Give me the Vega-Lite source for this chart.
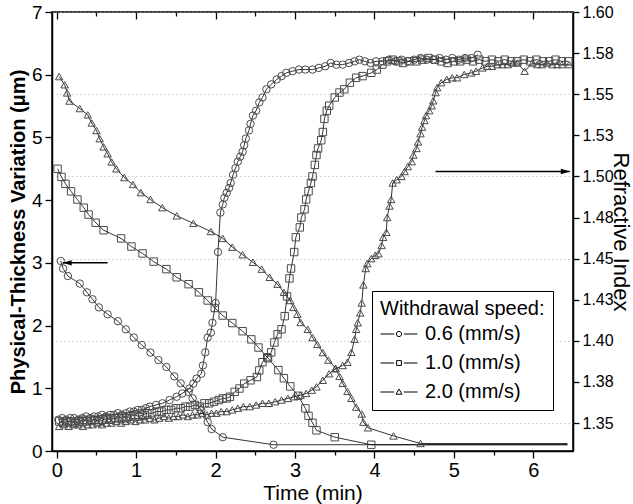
{
"$schema":"https://vega.github.io/schema/vega-lite/v6.json",
"width":521,"height":439,"autosize":"none",
"padding":{"left":52,"top":12,"right":60,"bottom":53},
"config":{"font":"Liberation Sans","view":{"stroke":"black","strokeWidth":1.5},
"axis":{"domainColor":"black","domainWidth":1.5,"tickColor":"black","tickWidth":1.3,"labelColor":"black","titleColor":"black","grid":false,"labelFont":"Liberation Sans","titleFont":"Liberation Sans"}},
"datasets":{
"thick":[
{"s":"0.6 (mm/s)","t":0.05,"v":3.03},{"s":"0.6 (mm/s)","t":0.08,"v":2.91},{"s":"0.6 (mm/s)","t":0.14,"v":2.79},{"s":"0.6 (mm/s)","t":0.29,"v":2.67},{"s":"0.6 (mm/s)","t":0.38,"v":2.53},{"s":"0.6 (mm/s)","t":0.45,"v":2.42},{"s":"0.6 (mm/s)","t":0.53,"v":2.29},{"s":"0.6 (mm/s)","t":0.64,"v":2.18},{"s":"0.6 (mm/s)","t":0.77,"v":2.07},{"s":"0.6 (mm/s)","t":0.87,"v":1.94},{"s":"0.6 (mm/s)","t":0.97,"v":1.81},{"s":"0.6 (mm/s)","t":1.07,"v":1.69},{"s":"0.6 (mm/s)","t":1.18,"v":1.57},{"s":"0.6 (mm/s)","t":1.28,"v":1.45},{"s":"0.6 (mm/s)","t":1.38,"v":1.34},{"s":"0.6 (mm/s)","t":1.48,"v":1.19},{"s":"0.6 (mm/s)","t":1.56,"v":1.08},{"s":"0.6 (mm/s)","t":1.66,"v":0.94},{"s":"0.6 (mm/s)","t":1.71,"v":0.84},{"s":"0.6 (mm/s)","t":1.82,"v":0.65},{"s":"0.6 (mm/s)","t":1.9,"v":0.46},{"s":"0.6 (mm/s)","t":1.95,"v":0.35},{"s":"0.6 (mm/s)","t":2.09,"v":0.22},{"s":"0.6 (mm/s)","t":2.73,"v":0.1},{"s":"0.6 (mm/s)","t":6.43,"v":0.1},
{"s":"1.0 (mm/s)","t":0.01,"v":4.5},{"s":"1.0 (mm/s)","t":0.06,"v":4.37},{"s":"1.0 (mm/s)","t":0.11,"v":4.26},{"s":"1.0 (mm/s)","t":0.18,"v":4.14},{"s":"1.0 (mm/s)","t":0.26,"v":4.01},{"s":"1.0 (mm/s)","t":0.34,"v":3.88},{"s":"1.0 (mm/s)","t":0.4,"v":3.77},{"s":"1.0 (mm/s)","t":0.49,"v":3.64},{"s":"1.0 (mm/s)","t":0.59,"v":3.52},{"s":"1.0 (mm/s)","t":0.81,"v":3.39},{"s":"1.0 (mm/s)","t":0.94,"v":3.26},{"s":"1.0 (mm/s)","t":1.08,"v":3.15},{"s":"1.0 (mm/s)","t":1.22,"v":3.02},{"s":"1.0 (mm/s)","t":1.38,"v":2.9},{"s":"1.0 (mm/s)","t":1.51,"v":2.77},{"s":"1.0 (mm/s)","t":1.66,"v":2.66},{"s":"1.0 (mm/s)","t":1.79,"v":2.53},{"s":"1.0 (mm/s)","t":1.9,"v":2.4},{"s":"1.0 (mm/s)","t":1.99,"v":2.28},{"s":"1.0 (mm/s)","t":2.09,"v":2.16},{"s":"1.0 (mm/s)","t":2.21,"v":2.04},{"s":"1.0 (mm/s)","t":2.34,"v":1.91},{"s":"1.0 (mm/s)","t":2.45,"v":1.78},{"s":"1.0 (mm/s)","t":2.54,"v":1.65},{"s":"1.0 (mm/s)","t":2.66,"v":1.48},{"s":"1.0 (mm/s)","t":2.79,"v":1.29},{"s":"1.0 (mm/s)","t":2.86,"v":1.16},{"s":"1.0 (mm/s)","t":2.94,"v":1.03},{"s":"1.0 (mm/s)","t":3.04,"v":0.88},{"s":"1.0 (mm/s)","t":3.13,"v":0.68},{"s":"1.0 (mm/s)","t":3.17,"v":0.56},{"s":"1.0 (mm/s)","t":3.22,"v":0.45},{"s":"1.0 (mm/s)","t":3.27,"v":0.33},{"s":"1.0 (mm/s)","t":3.5,"v":0.22},{"s":"1.0 (mm/s)","t":3.96,"v":0.1},{"s":"1.0 (mm/s)","t":6.43,"v":0.1},
{"s":"2.0 (mm/s)","t":0.03,"v":5.97},{"s":"2.0 (mm/s)","t":0.1,"v":5.84},{"s":"2.0 (mm/s)","t":0.13,"v":5.71},{"s":"2.0 (mm/s)","t":0.16,"v":5.58},{"s":"2.0 (mm/s)","t":0.29,"v":5.46},{"s":"2.0 (mm/s)","t":0.39,"v":5.36},{"s":"2.0 (mm/s)","t":0.44,"v":5.23},{"s":"2.0 (mm/s)","t":0.5,"v":5.11},{"s":"2.0 (mm/s)","t":0.54,"v":4.98},{"s":"2.0 (mm/s)","t":0.59,"v":4.85},{"s":"2.0 (mm/s)","t":0.64,"v":4.74},{"s":"2.0 (mm/s)","t":0.69,"v":4.61},{"s":"2.0 (mm/s)","t":0.75,"v":4.5},{"s":"2.0 (mm/s)","t":0.85,"v":4.36},{"s":"2.0 (mm/s)","t":0.96,"v":4.25},{"s":"2.0 (mm/s)","t":1.06,"v":4.12},{"s":"2.0 (mm/s)","t":1.18,"v":4.01},{"s":"2.0 (mm/s)","t":1.33,"v":3.88},{"s":"2.0 (mm/s)","t":1.51,"v":3.75},{"s":"2.0 (mm/s)","t":1.72,"v":3.63},{"s":"2.0 (mm/s)","t":1.94,"v":3.5},{"s":"2.0 (mm/s)","t":2.09,"v":3.39},{"s":"2.0 (mm/s)","t":2.21,"v":3.25},{"s":"2.0 (mm/s)","t":2.34,"v":3.13},{"s":"2.0 (mm/s)","t":2.47,"v":3.01},{"s":"2.0 (mm/s)","t":2.58,"v":2.9},{"s":"2.0 (mm/s)","t":2.68,"v":2.77},{"s":"2.0 (mm/s)","t":2.78,"v":2.66},{"s":"2.0 (mm/s)","t":2.86,"v":2.53},{"s":"2.0 (mm/s)","t":2.94,"v":2.4},{"s":"2.0 (mm/s)","t":2.98,"v":2.29},{"s":"2.0 (mm/s)","t":3.03,"v":2.18},{"s":"2.0 (mm/s)","t":3.07,"v":2.05},{"s":"2.0 (mm/s)","t":3.16,"v":1.94},{"s":"2.0 (mm/s)","t":3.22,"v":1.81},{"s":"2.0 (mm/s)","t":3.28,"v":1.7},{"s":"2.0 (mm/s)","t":3.35,"v":1.57},{"s":"2.0 (mm/s)","t":3.42,"v":1.45},{"s":"2.0 (mm/s)","t":3.51,"v":1.32},{"s":"2.0 (mm/s)","t":3.56,"v":1.19},{"s":"2.0 (mm/s)","t":3.6,"v":1.08},{"s":"2.0 (mm/s)","t":3.66,"v":0.95},{"s":"2.0 (mm/s)","t":3.71,"v":0.84},{"s":"2.0 (mm/s)","t":3.77,"v":0.7},{"s":"2.0 (mm/s)","t":3.84,"v":0.59},{"s":"2.0 (mm/s)","t":3.86,"v":0.46},{"s":"2.0 (mm/s)","t":3.92,"v":0.37},{"s":"2.0 (mm/s)","t":4.24,"v":0.24},{"s":"2.0 (mm/s)","t":4.58,"v":0.12},{"s":"2.0 (mm/s)","t":6.43,"v":0.12}
],
"ri":[
{"s":"0.6 (mm/s)","t":0.02,"n":1.352},{"s":"0.6 (mm/s)","t":0.07,"n":1.353},{"s":"0.6 (mm/s)","t":0.12,"n":1.352},{"s":"0.6 (mm/s)","t":0.17,"n":1.353},{"s":"0.6 (mm/s)","t":0.22,"n":1.353},{"s":"0.6 (mm/s)","t":0.27,"n":1.352},{"s":"0.6 (mm/s)","t":0.32,"n":1.353},{"s":"0.6 (mm/s)","t":0.37,"n":1.354},{"s":"0.6 (mm/s)","t":0.42,"n":1.353},{"s":"0.6 (mm/s)","t":0.47,"n":1.354},{"s":"0.6 (mm/s)","t":0.52,"n":1.354},{"s":"0.6 (mm/s)","t":0.57,"n":1.355},{"s":"0.6 (mm/s)","t":0.62,"n":1.354},{"s":"0.6 (mm/s)","t":0.67,"n":1.355},{"s":"0.6 (mm/s)","t":0.72,"n":1.355},{"s":"0.6 (mm/s)","t":0.77,"n":1.356},{"s":"0.6 (mm/s)","t":0.82,"n":1.355},{"s":"0.6 (mm/s)","t":0.87,"n":1.356},{"s":"0.6 (mm/s)","t":0.92,"n":1.357},{"s":"0.6 (mm/s)","t":0.97,"n":1.357},{"s":"0.6 (mm/s)","t":1.02,"n":1.358},{"s":"0.6 (mm/s)","t":1.07,"n":1.358},{"s":"0.6 (mm/s)","t":1.12,"n":1.359},{"s":"0.6 (mm/s)","t":1.17,"n":1.36},{"s":"0.6 (mm/s)","t":1.25,"n":1.361},{"s":"0.6 (mm/s)","t":1.33,"n":1.362},{"s":"0.6 (mm/s)","t":1.42,"n":1.364},{"s":"0.6 (mm/s)","t":1.51,"n":1.366},{"s":"0.6 (mm/s)","t":1.58,"n":1.368},{"s":"0.6 (mm/s)","t":1.67,"n":1.371},{"s":"0.6 (mm/s)","t":1.72,"n":1.374},{"s":"0.6 (mm/s)","t":1.76,"n":1.377},{"s":"0.6 (mm/s)","t":1.82,"n":1.38},{"s":"0.6 (mm/s)","t":1.84,"n":1.385},{"s":"0.6 (mm/s)","t":1.87,"n":1.393},{"s":"0.6 (mm/s)","t":1.9,"n":1.402},{"s":"0.6 (mm/s)","t":1.94,"n":1.405},{"s":"0.6 (mm/s)","t":1.96,"n":1.411},{"s":"0.6 (mm/s)","t":2.0,"n":1.423},{"s":"0.6 (mm/s)","t":2.03,"n":1.454},{"s":"0.6 (mm/s)","t":2.06,"n":1.478},{"s":"0.6 (mm/s)","t":2.09,"n":1.483},{"s":"0.6 (mm/s)","t":2.11,"n":1.487},{"s":"0.6 (mm/s)","t":2.14,"n":1.49},{"s":"0.6 (mm/s)","t":2.17,"n":1.493},{"s":"0.6 (mm/s)","t":2.19,"n":1.496},{"s":"0.6 (mm/s)","t":2.22,"n":1.501},{"s":"0.6 (mm/s)","t":2.25,"n":1.505},{"s":"0.6 (mm/s)","t":2.28,"n":1.509},{"s":"0.6 (mm/s)","t":2.31,"n":1.512},{"s":"0.6 (mm/s)","t":2.34,"n":1.515},{"s":"0.6 (mm/s)","t":2.36,"n":1.519},{"s":"0.6 (mm/s)","t":2.38,"n":1.523},{"s":"0.6 (mm/s)","t":2.42,"n":1.528},{"s":"0.6 (mm/s)","t":2.44,"n":1.532},{"s":"0.6 (mm/s)","t":2.47,"n":1.537},{"s":"0.6 (mm/s)","t":2.51,"n":1.54},{"s":"0.6 (mm/s)","t":2.55,"n":1.545},{"s":"0.6 (mm/s)","t":2.59,"n":1.548},{"s":"0.6 (mm/s)","t":2.64,"n":1.553},{"s":"0.6 (mm/s)","t":2.7,"n":1.556},{"s":"0.6 (mm/s)","t":2.77,"n":1.559},{"s":"0.6 (mm/s)","t":2.83,"n":1.561},{"s":"0.6 (mm/s)","t":2.89,"n":1.563},{"s":"0.6 (mm/s)","t":2.97,"n":1.564},{"s":"0.6 (mm/s)","t":3.05,"n":1.565},{"s":"0.6 (mm/s)","t":3.13,"n":1.565},{"s":"0.6 (mm/s)","t":3.22,"n":1.565},{"s":"0.6 (mm/s)","t":3.3,"n":1.566},{"s":"0.6 (mm/s)","t":3.38,"n":1.567},{"s":"0.6 (mm/s)","t":3.45,"n":1.569},{"s":"0.6 (mm/s)","t":3.52,"n":1.568},{"s":"0.6 (mm/s)","t":3.6,"n":1.568},{"s":"0.6 (mm/s)","t":3.68,"n":1.569},{"s":"0.6 (mm/s)","t":3.75,"n":1.57},{"s":"0.6 (mm/s)","t":3.81,"n":1.571},{"s":"0.6 (mm/s)","t":3.88,"n":1.57},{"s":"0.6 (mm/s)","t":3.95,"n":1.569},{"s":"0.6 (mm/s)","t":4.02,"n":1.57},{"s":"0.6 (mm/s)","t":4.1,"n":1.57},{"s":"0.6 (mm/s)","t":4.18,"n":1.571},{"s":"0.6 (mm/s)","t":4.26,"n":1.57},{"s":"0.6 (mm/s)","t":4.34,"n":1.571},{"s":"0.6 (mm/s)","t":4.42,"n":1.57},{"s":"0.6 (mm/s)","t":4.5,"n":1.571},{"s":"0.6 (mm/s)","t":4.58,"n":1.572},{"s":"0.6 (mm/s)","t":4.66,"n":1.571},{"s":"0.6 (mm/s)","t":4.74,"n":1.571},{"s":"0.6 (mm/s)","t":4.82,"n":1.572},{"s":"0.6 (mm/s)","t":4.9,"n":1.571},{"s":"0.6 (mm/s)","t":4.98,"n":1.572},{"s":"0.6 (mm/s)","t":5.06,"n":1.571},{"s":"0.6 (mm/s)","t":5.14,"n":1.572},{"s":"0.6 (mm/s)","t":5.22,"n":1.572},{"s":"0.6 (mm/s)","t":5.3,"n":1.574},
{"s":"1.0 (mm/s)","t":0.03,"n":1.351},{"s":"1.0 (mm/s)","t":0.08,"n":1.35},{"s":"1.0 (mm/s)","t":0.13,"n":1.351},{"s":"1.0 (mm/s)","t":0.18,"n":1.351},{"s":"1.0 (mm/s)","t":0.23,"n":1.35},{"s":"1.0 (mm/s)","t":0.28,"n":1.351},{"s":"1.0 (mm/s)","t":0.33,"n":1.352},{"s":"1.0 (mm/s)","t":0.38,"n":1.351},{"s":"1.0 (mm/s)","t":0.43,"n":1.352},{"s":"1.0 (mm/s)","t":0.48,"n":1.352},{"s":"1.0 (mm/s)","t":0.53,"n":1.351},{"s":"1.0 (mm/s)","t":0.58,"n":1.352},{"s":"1.0 (mm/s)","t":0.63,"n":1.353},{"s":"1.0 (mm/s)","t":0.68,"n":1.352},{"s":"1.0 (mm/s)","t":0.73,"n":1.353},{"s":"1.0 (mm/s)","t":0.78,"n":1.353},{"s":"1.0 (mm/s)","t":0.83,"n":1.354},{"s":"1.0 (mm/s)","t":0.88,"n":1.353},{"s":"1.0 (mm/s)","t":0.93,"n":1.354},{"s":"1.0 (mm/s)","t":0.98,"n":1.355},{"s":"1.0 (mm/s)","t":1.03,"n":1.354},{"s":"1.0 (mm/s)","t":1.08,"n":1.355},{"s":"1.0 (mm/s)","t":1.14,"n":1.356},{"s":"1.0 (mm/s)","t":1.2,"n":1.356},{"s":"1.0 (mm/s)","t":1.26,"n":1.357},{"s":"1.0 (mm/s)","t":1.32,"n":1.357},{"s":"1.0 (mm/s)","t":1.38,"n":1.358},{"s":"1.0 (mm/s)","t":1.44,"n":1.358},{"s":"1.0 (mm/s)","t":1.5,"n":1.359},{"s":"1.0 (mm/s)","t":1.56,"n":1.359},{"s":"1.0 (mm/s)","t":1.62,"n":1.36},{"s":"1.0 (mm/s)","t":1.68,"n":1.36},{"s":"1.0 (mm/s)","t":1.74,"n":1.361},{"s":"1.0 (mm/s)","t":1.8,"n":1.36},{"s":"1.0 (mm/s)","t":1.86,"n":1.362},{"s":"1.0 (mm/s)","t":1.92,"n":1.362},{"s":"1.0 (mm/s)","t":1.98,"n":1.363},{"s":"1.0 (mm/s)","t":2.04,"n":1.364},{"s":"1.0 (mm/s)","t":2.09,"n":1.365},{"s":"1.0 (mm/s)","t":2.14,"n":1.365},{"s":"1.0 (mm/s)","t":2.18,"n":1.366},{"s":"1.0 (mm/s)","t":2.24,"n":1.369},{"s":"1.0 (mm/s)","t":2.3,"n":1.371},{"s":"1.0 (mm/s)","t":2.36,"n":1.374},{"s":"1.0 (mm/s)","t":2.44,"n":1.376},{"s":"1.0 (mm/s)","t":2.52,"n":1.378},{"s":"1.0 (mm/s)","t":2.55,"n":1.382},{"s":"1.0 (mm/s)","t":2.59,"n":1.387},{"s":"1.0 (mm/s)","t":2.65,"n":1.39},{"s":"1.0 (mm/s)","t":2.7,"n":1.393},{"s":"1.0 (mm/s)","t":2.74,"n":1.399},{"s":"1.0 (mm/s)","t":2.78,"n":1.404},{"s":"1.0 (mm/s)","t":2.83,"n":1.407},{"s":"1.0 (mm/s)","t":2.87,"n":1.415},{"s":"1.0 (mm/s)","t":2.9,"n":1.427},{"s":"1.0 (mm/s)","t":2.93,"n":1.438},{"s":"1.0 (mm/s)","t":2.95,"n":1.444},{"s":"1.0 (mm/s)","t":2.99,"n":1.454},{"s":"1.0 (mm/s)","t":3.01,"n":1.463},{"s":"1.0 (mm/s)","t":3.06,"n":1.469},{"s":"1.0 (mm/s)","t":3.08,"n":1.475},{"s":"1.0 (mm/s)","t":3.12,"n":1.48},{"s":"1.0 (mm/s)","t":3.14,"n":1.486},{"s":"1.0 (mm/s)","t":3.17,"n":1.491},{"s":"1.0 (mm/s)","t":3.2,"n":1.496},{"s":"1.0 (mm/s)","t":3.22,"n":1.5},{"s":"1.0 (mm/s)","t":3.25,"n":1.507},{"s":"1.0 (mm/s)","t":3.27,"n":1.513},{"s":"1.0 (mm/s)","t":3.29,"n":1.517},{"s":"1.0 (mm/s)","t":3.33,"n":1.522},{"s":"1.0 (mm/s)","t":3.35,"n":1.527},{"s":"1.0 (mm/s)","t":3.37,"n":1.535},{"s":"1.0 (mm/s)","t":3.4,"n":1.54},{"s":"1.0 (mm/s)","t":3.43,"n":1.543},{"s":"1.0 (mm/s)","t":3.5,"n":1.548},{"s":"1.0 (mm/s)","t":3.56,"n":1.551},{"s":"1.0 (mm/s)","t":3.62,"n":1.553},{"s":"1.0 (mm/s)","t":3.69,"n":1.557},{"s":"1.0 (mm/s)","t":3.77,"n":1.56},{"s":"1.0 (mm/s)","t":3.85,"n":1.561},{"s":"1.0 (mm/s)","t":3.96,"n":1.563},{"s":"1.0 (mm/s)","t":4.03,"n":1.565},{"s":"1.0 (mm/s)","t":4.1,"n":1.568},{"s":"1.0 (mm/s)","t":4.16,"n":1.57},{"s":"1.0 (mm/s)","t":4.23,"n":1.571},{"s":"1.0 (mm/s)","t":4.3,"n":1.57},{"s":"1.0 (mm/s)","t":4.36,"n":1.569},{"s":"1.0 (mm/s)","t":4.44,"n":1.57},{"s":"1.0 (mm/s)","t":4.53,"n":1.57},{"s":"1.0 (mm/s)","t":4.6,"n":1.571},{"s":"1.0 (mm/s)","t":4.68,"n":1.572},{"s":"1.0 (mm/s)","t":4.76,"n":1.571},{"s":"1.0 (mm/s)","t":4.84,"n":1.57},{"s":"1.0 (mm/s)","t":4.92,"n":1.569},{"s":"1.0 (mm/s)","t":5.0,"n":1.57},{"s":"1.0 (mm/s)","t":5.08,"n":1.57},{"s":"1.0 (mm/s)","t":5.16,"n":1.571},{"s":"1.0 (mm/s)","t":5.24,"n":1.57},{"s":"1.0 (mm/s)","t":5.32,"n":1.571},{"s":"1.0 (mm/s)","t":5.4,"n":1.57},{"s":"1.0 (mm/s)","t":5.48,"n":1.571},{"s":"1.0 (mm/s)","t":5.56,"n":1.57},{"s":"1.0 (mm/s)","t":5.64,"n":1.571},{"s":"1.0 (mm/s)","t":5.72,"n":1.57},{"s":"1.0 (mm/s)","t":5.8,"n":1.57},{"s":"1.0 (mm/s)","t":5.88,"n":1.571},{"s":"1.0 (mm/s)","t":5.96,"n":1.57},{"s":"1.0 (mm/s)","t":6.04,"n":1.571},{"s":"1.0 (mm/s)","t":6.12,"n":1.57},{"s":"1.0 (mm/s)","t":6.2,"n":1.57},{"s":"1.0 (mm/s)","t":6.28,"n":1.571},{"s":"1.0 (mm/s)","t":6.36,"n":1.57},{"s":"1.0 (mm/s)","t":6.44,"n":1.57},
{"s":"2.0 (mm/s)","t":0.03,"n":1.348},{"s":"2.0 (mm/s)","t":0.09,"n":1.349},{"s":"2.0 (mm/s)","t":0.15,"n":1.348},{"s":"2.0 (mm/s)","t":0.21,"n":1.349},{"s":"2.0 (mm/s)","t":0.27,"n":1.349},{"s":"2.0 (mm/s)","t":0.33,"n":1.348},{"s":"2.0 (mm/s)","t":0.39,"n":1.349},{"s":"2.0 (mm/s)","t":0.45,"n":1.349},{"s":"2.0 (mm/s)","t":0.51,"n":1.35},{"s":"2.0 (mm/s)","t":0.57,"n":1.349},{"s":"2.0 (mm/s)","t":0.63,"n":1.35},{"s":"2.0 (mm/s)","t":0.69,"n":1.35},{"s":"2.0 (mm/s)","t":0.75,"n":1.351},{"s":"2.0 (mm/s)","t":0.81,"n":1.35},{"s":"2.0 (mm/s)","t":0.87,"n":1.351},{"s":"2.0 (mm/s)","t":0.93,"n":1.352},{"s":"2.0 (mm/s)","t":0.99,"n":1.351},{"s":"2.0 (mm/s)","t":1.05,"n":1.352},{"s":"2.0 (mm/s)","t":1.11,"n":1.352},{"s":"2.0 (mm/s)","t":1.17,"n":1.353},{"s":"2.0 (mm/s)","t":1.23,"n":1.352},{"s":"2.0 (mm/s)","t":1.29,"n":1.353},{"s":"2.0 (mm/s)","t":1.35,"n":1.354},{"s":"2.0 (mm/s)","t":1.41,"n":1.353},{"s":"2.0 (mm/s)","t":1.47,"n":1.354},{"s":"2.0 (mm/s)","t":1.53,"n":1.354},{"s":"2.0 (mm/s)","t":1.59,"n":1.355},{"s":"2.0 (mm/s)","t":1.65,"n":1.354},{"s":"2.0 (mm/s)","t":1.71,"n":1.355},{"s":"2.0 (mm/s)","t":1.77,"n":1.355},{"s":"2.0 (mm/s)","t":1.83,"n":1.356},{"s":"2.0 (mm/s)","t":1.89,"n":1.355},{"s":"2.0 (mm/s)","t":1.95,"n":1.356},{"s":"2.0 (mm/s)","t":2.01,"n":1.356},{"s":"2.0 (mm/s)","t":2.07,"n":1.357},{"s":"2.0 (mm/s)","t":2.14,"n":1.357},{"s":"2.0 (mm/s)","t":2.21,"n":1.358},{"s":"2.0 (mm/s)","t":2.28,"n":1.359},{"s":"2.0 (mm/s)","t":2.35,"n":1.36},{"s":"2.0 (mm/s)","t":2.43,"n":1.36},{"s":"2.0 (mm/s)","t":2.51,"n":1.361},{"s":"2.0 (mm/s)","t":2.59,"n":1.362},{"s":"2.0 (mm/s)","t":2.67,"n":1.362},{"s":"2.0 (mm/s)","t":2.75,"n":1.363},{"s":"2.0 (mm/s)","t":2.83,"n":1.364},{"s":"2.0 (mm/s)","t":2.91,"n":1.365},{"s":"2.0 (mm/s)","t":2.99,"n":1.366},{"s":"2.0 (mm/s)","t":3.07,"n":1.367},{"s":"2.0 (mm/s)","t":3.14,"n":1.368},{"s":"2.0 (mm/s)","t":3.21,"n":1.37},{"s":"2.0 (mm/s)","t":3.27,"n":1.372},{"s":"2.0 (mm/s)","t":3.35,"n":1.376},{"s":"2.0 (mm/s)","t":3.43,"n":1.38},{"s":"2.0 (mm/s)","t":3.51,"n":1.383},{"s":"2.0 (mm/s)","t":3.6,"n":1.385},{"s":"2.0 (mm/s)","t":3.66,"n":1.387},{"s":"2.0 (mm/s)","t":3.71,"n":1.393},{"s":"2.0 (mm/s)","t":3.75,"n":1.401},{"s":"2.0 (mm/s)","t":3.77,"n":1.407},{"s":"2.0 (mm/s)","t":3.79,"n":1.411},{"s":"2.0 (mm/s)","t":3.82,"n":1.417},{"s":"2.0 (mm/s)","t":3.84,"n":1.423},{"s":"2.0 (mm/s)","t":3.86,"n":1.434},{"s":"2.0 (mm/s)","t":3.89,"n":1.444},{"s":"2.0 (mm/s)","t":3.91,"n":1.447},{"s":"2.0 (mm/s)","t":3.96,"n":1.45},{"s":"2.0 (mm/s)","t":4.01,"n":1.452},{"s":"2.0 (mm/s)","t":4.05,"n":1.453},{"s":"2.0 (mm/s)","t":4.09,"n":1.458},{"s":"2.0 (mm/s)","t":4.11,"n":1.463},{"s":"2.0 (mm/s)","t":4.15,"n":1.466},{"s":"2.0 (mm/s)","t":4.16,"n":1.475},{"s":"2.0 (mm/s)","t":4.19,"n":1.482},{"s":"2.0 (mm/s)","t":4.21,"n":1.486},{"s":"2.0 (mm/s)","t":4.23,"n":1.496},{"s":"2.0 (mm/s)","t":4.28,"n":1.498},{"s":"2.0 (mm/s)","t":4.34,"n":1.5},{"s":"2.0 (mm/s)","t":4.38,"n":1.503},{"s":"2.0 (mm/s)","t":4.42,"n":1.506},{"s":"2.0 (mm/s)","t":4.47,"n":1.509},{"s":"2.0 (mm/s)","t":4.49,"n":1.513},{"s":"2.0 (mm/s)","t":4.53,"n":1.517},{"s":"2.0 (mm/s)","t":4.55,"n":1.521},{"s":"2.0 (mm/s)","t":4.58,"n":1.526},{"s":"2.0 (mm/s)","t":4.6,"n":1.53},{"s":"2.0 (mm/s)","t":4.63,"n":1.534},{"s":"2.0 (mm/s)","t":4.65,"n":1.537},{"s":"2.0 (mm/s)","t":4.69,"n":1.54},{"s":"2.0 (mm/s)","t":4.72,"n":1.543},{"s":"2.0 (mm/s)","t":4.74,"n":1.546},{"s":"2.0 (mm/s)","t":4.77,"n":1.551},{"s":"2.0 (mm/s)","t":4.79,"n":1.554},{"s":"2.0 (mm/s)","t":4.84,"n":1.557},{"s":"2.0 (mm/s)","t":4.91,"n":1.559},{"s":"2.0 (mm/s)","t":4.98,"n":1.56},{"s":"2.0 (mm/s)","t":5.04,"n":1.56},{"s":"2.0 (mm/s)","t":5.13,"n":1.562},{"s":"2.0 (mm/s)","t":5.22,"n":1.563},{"s":"2.0 (mm/s)","t":5.28,"n":1.564},{"s":"2.0 (mm/s)","t":5.36,"n":1.566},{"s":"2.0 (mm/s)","t":5.42,"n":1.567},{"s":"2.0 (mm/s)","t":5.48,"n":1.567},{"s":"2.0 (mm/s)","t":5.55,"n":1.568},{"s":"2.0 (mm/s)","t":5.61,"n":1.568},{"s":"2.0 (mm/s)","t":5.68,"n":1.568},{"s":"2.0 (mm/s)","t":5.74,"n":1.569},{"s":"2.0 (mm/s)","t":5.8,"n":1.569},{"s":"2.0 (mm/s)","t":5.89,"n":1.564},{"s":"2.0 (mm/s)","t":5.99,"n":1.569},{"s":"2.0 (mm/s)","t":6.05,"n":1.568},{"s":"2.0 (mm/s)","t":6.11,"n":1.568},{"s":"2.0 (mm/s)","t":6.17,"n":1.569},{"s":"2.0 (mm/s)","t":6.24,"n":1.568},{"s":"2.0 (mm/s)","t":6.3,"n":1.568},{"s":"2.0 (mm/s)","t":6.36,"n":1.568},{"s":"2.0 (mm/s)","t":6.45,"n":1.568}
],
"arrowL":[{"t":0.075,"t2":0.64,"v":3.0}],
"arrowR":[{"t":4.77,"t2":6.46,"n":1.503}],
"speeds":[{"s":"0.6 (mm/s)","t":0,"v":0},{"s":"1.0 (mm/s)","t":0,"v":0},{"s":"2.0 (mm/s)","t":0,"v":0}]
},
"layer":[
{"layer":[
 {"data":{"name":"thick"},"mark":{"type":"line","color":"black","strokeWidth":0.8},
  "encoding":{
   "x":{"field":"t","type":"quantitative","scale":{"domain":[-0.06,6.5],"nice":false,"zero":false},
     "axis":{"title":"Time (min)","titleFontSize":21,"titleFontWeight":"normal","titlePadding":2,"labelFontSize":20,"labelPadding":2,"values":[0,0.5,1,1.5,2,2.5,3,3.5,4,4.5,5,5.5,6],"labelExpr":"datum.value % 1 === 0 ? format(datum.value, 'd') : ''","tickSize":{"condition":{"test":"datum.value % 1 === 0","value":7},"value":4}}},
   "y":{"field":"v","type":"quantitative","scale":{"domain":[0,7],"nice":false},
     "axis":{"orient":"left","title":"Physical-Thickness Variation (μm)","titleFontSize":20,"titleFontWeight":"bold","titlePadding":3,"labelFontSize":19,"labelPadding":3,"values":[0,0.5,1,1.5,2,2.5,3,3.5,4,4.5,5,5.5,6,6.5,7],"labelExpr":"datum.value % 1 === 0 ? format(datum.value, 'd') : ''","tickSize":{"condition":{"test":"datum.value % 1 === 0","value":7},"value":4}}},
   "detail":{"field":"s","type":"nominal"}}},
 {"data":{"name":"thick"},"transform":[{"filter":"datum.t < 6.4"}],
  "mark":{"type":"point","filled":false,"color":"#4a4a4a","strokeWidth":1,"size":55,"opacity":1},
  "encoding":{
   "x":{"field":"t","type":"quantitative"},
   "y":{"field":"v","type":"quantitative"},
   "shape":{"field":"s","type":"nominal","scale":{"domain":["0.6 (mm/s)","1.0 (mm/s)","2.0 (mm/s)"],"range":["circle","square","triangle-up"]},"legend":null}}},
 {"data":{"name":"arrowL"},"mark":{"type":"rule","color":"black","strokeWidth":1.5},
  "encoding":{"x":{"field":"t","type":"quantitative"},"x2":{"field":"t2"},"y":{"field":"v","type":"quantitative"}}},
 {"data":{"name":"arrowL"},"mark":{"type":"point","filled":true,"color":"black","opacity":1,"size":36,"shape":"M0,0L3,-0.9L3,0.9Z"},
  "encoding":{"x":{"field":"t","type":"quantitative"},"y":{"field":"v","type":"quantitative"}}}
]},
{"layer":[
 {"data":{"name":"ri"},"mark":{"type":"line","color":"black","strokeWidth":0.8},
  "encoding":{
   "x":{"field":"t","type":"quantitative","axis":{"orient":"top","labels":false,"title":null,"domain":false,"values":[0,0.5,1,1.5,2,2.5,3,3.5,4,4.5,5,5.5,6],"tickSize":{"condition":{"test":"datum.value % 1 === 0","value":-7},"value":-4}}},
   "y":{"field":"n","type":"quantitative","scale":{"domain":[1.333,1.6],"nice":false,"zero":false},
     "axis":{"orient":"right","title":"Refractive Index","titleFontSize":22,"titleFontWeight":"normal","titlePadding":-5,"labelFontSize":16,"labelPadding":3,"tickSize":6,"values":[1.35,1.375,1.4,1.425,1.45,1.475,1.5,1.525,1.55,1.575,1.6],"labelExpr":"format(datum.value + 0.0001, '.2f')",
       "grid":true,"gridColor":"#b0b0b0","gridDash":[1,3],"gridWidth":1,"gridOpacity":{"condition":{"test":"abs(datum.value*20 - round(datum.value*20)) < 0.01","value":1},"value":0}}},
   "detail":{"field":"s","type":"nominal"}}},
 {"data":{"name":"ri"},
  "mark":{"type":"point","filled":false,"color":"#4a4a4a","strokeWidth":1,"size":55,"opacity":1},
  "encoding":{
   "x":{"field":"t","type":"quantitative"},
   "y":{"field":"n","type":"quantitative"},
   "shape":{"field":"s","type":"nominal","scale":{"domain":["0.6 (mm/s)","1.0 (mm/s)","2.0 (mm/s)"],"range":["circle","square","triangle-up"]},"legend":null}}},
 {"data":{"name":"arrowR"},"mark":{"type":"rule","color":"black","strokeWidth":1.5},
  "encoding":{"x":{"field":"t","type":"quantitative"},"x2":{"field":"t2"},"y":{"field":"n","type":"quantitative"}}},
 {"data":{"name":"arrowR"},"mark":{"type":"point","filled":true,"color":"black","opacity":1,"size":36,"shape":"M0,0L-3,-0.9L-3,0.9Z"},
  "encoding":{"x":{"field":"t2","type":"quantitative"},"y":{"field":"n","type":"quantitative"}}}
]},
{"data":{"name":"speeds"},
 "mark":{"type":"point","filled":false,"color":"black","opacity":0,"strokeWidth":1},
 "encoding":{
  "x":{"field":"t","type":"quantitative","axis":null},
  "y":{"field":"v","type":"quantitative","axis":null},
  "shape":{"field":"s","type":"nominal","scale":{"domain":["0.6 (mm/s)","1.0 (mm/s)","2.0 (mm/s)"],"range":["M-1,0H-0.26M0.14,0A0.14,0.14 0 1 1 -0.14,0A0.14,0.14 0 1 1 0.14,0M0.26,0H1","M-1,0H-0.26M-0.13,-0.13H0.13V0.13H-0.13ZM0.26,0H1","M-1,0H-0.26M0,-0.16L0.16,0.12H-0.16ZM0.26,0H1"]},
   "legend":{"title":"Withdrawal speed:","orient":"none","legendX":320,"legendY":279,"titleFontSize":20,"titleFontWeight":"normal","titleColor":"black","labelFontSize":20,"labelColor":"black","symbolSize":1369,"symbolOpacity":1,"symbolStrokeColor":"black","symbolStrokeWidth":1,"symbolFillColor":"transparent","strokeColor":"black","fillColor":"white","padding":8,"labelOffset":7,"titlePadding":-4,"rowPadding":-8}}}}
],
"resolve":{"scale":{"y":"independent","shape":"independent"},"axis":{"y":"independent","x":"independent"},"legend":{"shape":"independent"}}
}
